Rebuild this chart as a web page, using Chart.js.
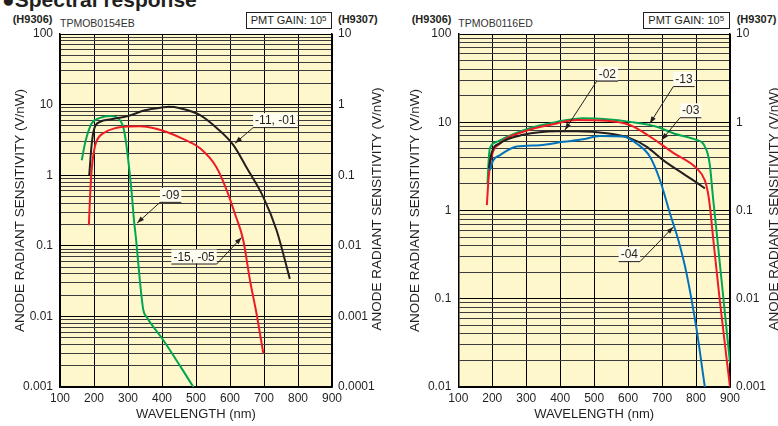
<!DOCTYPE html>
<html>
<head>
<meta charset="utf-8">
<script src="https://cdn.jsdelivr.net/npm/chart.js@4.4.1/dist/chart.umd.min.js"></script>
<style>
  body { margin:0; width:778px; height:426px; overflow:hidden; background:#fff; position:relative;
         font-family:"Liberation Sans", Arial, sans-serif; color:#231f20; }
  canvas { position:absolute; top:0; }
  #c1 { left:0; }
  #c2 { left:389px; }
  .t { position:absolute; white-space:nowrap; line-height:1; }
  .model { font-weight:bold; font-size:11px; top:14px; }
  .code { font-size:10.5px; color:#333; top:17.5px; }
  .gain { font-size:11px; top:11.5px; height:17px; box-sizing:border-box; border:1px solid #231f20;
          padding:2px 0 0 4px; }
  .gain span { font-size:8px; position:relative; top:-3px; }
  #title { position:absolute; left:2px; top:-12px; font-size:21px; font-weight:bold; white-space:nowrap; }
</style>
</head>
<body>
<div id="title">●Spectral response</div>

<div class="t model" style="left:12.7px">(H9306)</div>
<div class="t code" style="left:60px">TPMOB0154EB</div>
<div class="t gain" style="left:245.7px; width:86px">PMT GAIN: 10<span>5</span></div>
<div class="t model" style="left:338px">(H9307)</div>

<div class="t model" style="left:411.7px">(H9306)</div>
<div class="t code" style="left:458.3px">TPMOB0116ED</div>
<div class="t gain" style="left:643.3px; width:87px">PMT GAIN: 10<span>5</span></div>
<div class="t model" style="left:736.7px">(H9307)</div>

<canvas id="c1" width="389" height="426"></canvas>
<canvas id="c2" width="389" height="426"></canvas>

<script>
// ---- left graph: H9306/H9307 -11/-01, -09, -15/-05
const nmA_1101 = [186, 193, 201, 218, 250, 300, 350, 400, 420, 453, 512, 560, 610, 650, 698, 737, 776];
const svA_1101 = [1.0, 2.7, 4.6, 5.7, 6.2, 6.9, 8.3, 9.1, 9.3, 8.9, 7.1, 4.7, 2.67, 1.25, 0.49, 0.166, 0.034];
const nmA_09 = [164, 172, 180, 193, 218, 247, 267, 286, 293, 301, 311, 318, 324, 335, 345, 355, 404, 450, 492, 505];
const svA_09 = [1.63, 2.6, 3.7, 5.4, 6.5, 6.9, 6.6, 4.8, 3.2, 1.6, 0.55, 0.22, 0.12, 0.032, 0.0123, 0.0098, 0.0046, 0.0021, 0.001, 0.00078];
const nmA_1505 = [185, 188, 193, 200, 208, 230, 260, 300, 335, 380, 414, 460, 512, 560, 590, 615, 639, 659, 678, 698];
const svA_1505 = [0.195, 0.45, 1.18, 2.2, 3.1, 4.0, 4.6, 4.9, 4.95, 4.6, 4.1, 3.3, 2.4, 1.3, 0.62, 0.28, 0.12, 0.032, 0.011, 0.003];

// ---- right graph: -02, -03, -04, -13
const nmB_13 = [186, 190, 193, 213, 250, 291, 340, 390, 468, 537, 605, 684, 733, 802, 818, 826, 835, 841, 850, 860, 880, 900];
const svB_13 = [2.03, 4.0, 5.06, 6.0, 7.0, 8.1, 9.2, 10.1, 11.1, 10.8, 10.1, 8.9, 7.5, 6.3, 5.9, 5.3, 4.3, 3.2, 1.4, 0.6, 0.106, 0.0186];
const nmB_03 = [184, 190, 198, 223, 291, 390, 449, 537, 605, 664, 733, 802, 826, 835, 841, 851, 870, 900];
const svB_03 = [1.15, 2.5, 4.07, 5.75, 7.8, 9.7, 10.6, 10.4, 9.3, 6.9, 4.5, 3.0, 2.2, 1.6, 1.1, 0.46, 0.095, 0.01];
const nmB_02 = [190, 198, 223, 291, 390, 449, 537, 605, 654, 704, 763, 800, 826];
const svB_02 = [3.0, 4.5, 5.8, 7.2, 7.9, 7.9, 7.5, 6.6, 5.3, 3.7, 2.6, 2.1, 1.78];
const nmB_04 = [193, 203, 223, 272, 340, 409, 468, 517, 586, 625, 664, 694, 723, 748, 772, 802, 826, 835];
const svB_04 = [2.87, 3.7, 4.25, 5.3, 5.5, 6.0, 6.4, 7.0, 6.9, 5.75, 4.1, 2.2, 0.93, 0.46, 0.194, 0.044, 0.01, 0.006];

// tick labels
const xLabels = ['100', '200', '300', '400', '500', '600', '700', '800', '900'];
const yLabelsA = ['0.001', '0.01', '0.1', '1', '10', '100'];
const y2LabelsA = ['0.0001', '0.001', '0.01', '0.1', '1', '10'];
const yLabelsB = ['0.01', '0.1', '1', '10', '100'];
const y2LabelsB = ['0.001', '0.01', '0.1', '1', '10'];

// callouts: underline end (nm, value) -> arrow tip (nm, value)
const notesA = [
  { text: '-11, -01', nm: 668, val: 4.8, tipNm: 615, tipVal: 2.84, side: 'left' },
  { text: '-09', nm: 394, val: 0.419, tipNm: 327, tipVal: 0.21, side: 'left' },
  { text: '-15, -05', nm: 561, val: 0.0561, tipNm: 634, tipVal: 0.131, side: 'right' }
];
const notesB = [
  { text: '-02', nm: 507.5, val: 29.6, tipNm: 414, tipVal: 8.17, side: 'left' },
  { text: '-13', nm: 733, val: 25.7, tipNm: 664, tipVal: 9.7, side: 'left' },
  { text: '-03', nm: 752.7, val: 11.4, tipNm: 699, tipVal: 6.28, side: 'left' },
  { text: '-04', nm: 635, val: 0.267, tipNm: 733, tipVal: 0.65, side: 'right' }
];

const INK = '#231f20';
const PAPER = '#fff7cc';
const BLACK = '#231f20', RED = '#ed1c24', GREEN = '#00a651', BLUE = '#0072bc';
const FONT = '"Liberation Sans", Arial, sans-serif';
const YTITLE = 'ANODE RADIANT SENSITIVITY (V/nW)';
const TITLE_SIZE = 13.5;

Chart.defaults.font.family = FONT;
Chart.defaults.font.size = 12;
Chart.defaults.color = INK;

function isDecade(v) {
  const l = Math.log10(v);
  return Math.abs(l - Math.round(l)) < 1e-6;
}

function logGrid(min, max, minors) {
  const t = [];
  for (let e = Math.round(Math.log10(min)); e < Math.round(Math.log10(max)); e++) {
    for (let m = 1; m < 10; m++) {
      if (m === 1 || minors) t.push(+(m * Math.pow(10, e)).toPrecision(6));
    }
  }
  t.push(max);
  return t;
}

function series(nm, sv, color) {
  return {
    data: nm.map((n, i) => ({ x: n, y: sv[i] })),
    borderColor: color,
    borderWidth: 2,
    pointRadius: 0,
    cubicInterpolationMode: 'monotone',
    fill: false
  };
}

const paper = {
  id: 'paper',
  beforeDraw(chart) {
    const { ctx, chartArea: a } = chart;
    ctx.save();
    ctx.fillStyle = PAPER;
    ctx.fillRect(a.left, a.top, a.right - a.left, a.bottom - a.top);
    ctx.restore();
  }
};

function callouts(notes, rightTitleX) {
  return {
    id: 'callouts',
    afterDraw(chart) {
      const { ctx, chartArea: a } = chart;
      const x = chart.scales.x, y = chart.scales.y;
      ctx.save();
      ctx.font = '12px ' + FONT;
      notes.forEach(n => {
        const ux = x.getPixelForValue(n.nm), uy = y.getPixelForValue(n.val);
        const tx = x.getPixelForValue(n.tipNm), ty = y.getPixelForValue(n.tipVal);
        const w = ctx.measureText(n.text).width + 4;
        const left = n.side === 'left' ? ux : ux - w;
        ctx.fillStyle = '#fffdf0';
        ctx.fillRect(left, uy - 14, w, 14);
        ctx.fillStyle = INK;
        ctx.textBaseline = 'alphabetic';
        ctx.fillText(n.text, left + 2, uy - 3);
        ctx.strokeStyle = INK;
        ctx.lineWidth = 1;
        ctx.beginPath();
        ctx.moveTo(left, uy + 0.5);
        ctx.lineTo(left + w, uy + 0.5);
        ctx.moveTo(ux, uy + 0.5);
        ctx.lineTo(tx, ty);
        ctx.stroke();
        const ang = Math.atan2(ty - uy, tx - ux);
        ctx.beginPath();
        ctx.moveTo(tx, ty);
        ctx.lineTo(tx - 7 * Math.cos(ang) + 2.5 * Math.sin(ang), ty - 7 * Math.sin(ang) - 2.5 * Math.cos(ang));
        ctx.lineTo(tx - 7 * Math.cos(ang) - 2.5 * Math.sin(ang), ty - 7 * Math.sin(ang) + 2.5 * Math.cos(ang));
        ctx.closePath();
        ctx.fill();
      });
      // right-hand axis title, reading bottom to top like the left one
      ctx.font = TITLE_SIZE + 'px ' + FONT;
      ctx.textAlign = 'center';
      ctx.textBaseline = 'middle';
      ctx.translate(rightTitleX, (a.top + a.bottom) / 2 - 1.5);
      ctx.rotate(-Math.PI / 2);
      ctx.fillText(YTITLE, 0, 0);
      ctx.restore();
    }
  };
}

function makeChart(id, o) {
  const ymin = o.yMin, ymax = o.yMax;
  return new Chart(document.getElementById(id), {
    type: 'line',
    data: { datasets: o.datasets },
    options: {
      animation: false,
      responsive: false,
      devicePixelRatio: 1,
      layout: { padding: { top: 34, left: 0, right: 0, bottom: 0 } },
      plugins: { legend: { display: false }, tooltip: { enabled: false } },
      scales: {
        x: {
          type: 'linear', min: 100, max: 900,
          afterFit: s => { s.height = 39; },
          ticks: { stepSize: 100, padding: 4, callback: (v, i) => xLabels[Math.round((v - 100) / 100)] },
          grid: { color: '#000', lineWidth: 1, drawTicks: false },
          border: { color: '#000', width: 1.5 },
          title: { display: true, text: 'WAVELENGTH (nm)', font: { size: 13 }, padding: { top: 0, bottom: 4 } }
        },
        y: {
          type: 'logarithmic', position: 'left', min: ymin, max: ymax,
          afterFit: s => { s.width = o.leftW; },
          afterBuildTicks: s => { s.ticks = logGrid(ymin, ymax, true).map(v => ({ value: v })); },
          ticks: {
            autoSkip: false, padding: 7,
            callback: v => isDecade(v) ? o.yLabels[Math.round(Math.log10(v / ymin))] : ''
          },
          grid: {
            drawTicks: false,
            color: c => (c.tick && isDecade(c.tick.value)) ? '#000' : '#3c3c3c',
            lineWidth: 1
          },
          border: { color: '#000', width: 1.5 },
          title: { display: true, text: YTITLE, font: { size: TITLE_SIZE }, padding: { top: o.titlePad, bottom: 0 } }
        },
        y2: {
          type: 'logarithmic', position: 'right', min: ymin / 10, max: ymax / 10,
          afterFit: s => { s.width = o.rightW; },
          afterBuildTicks: s => { s.ticks = logGrid(ymin / 10, ymax / 10, false).map(v => ({ value: v })); },
          ticks: {
            autoSkip: false, padding: 6,
            callback: v => o.y2Labels[Math.round(Math.log10(v / (ymin / 10)))]
          },
          grid: { display: false, drawTicks: false },
          border: { color: '#000', width: 1.5 }
        }
      }
    },
    plugins: [paper, callouts(o.notes, o.rightTitleX)]
  });
}

makeChart('c1', {
  datasets: [
    series(nmA_1101, svA_1101, BLACK),
    series(nmA_1505, svA_1505, RED),
    series(nmA_09, svA_09, GREEN)
  ],
  yMin: 0.001, yMax: 100, yLabels: yLabelsA, y2Labels: y2LabelsA,
  leftW: 60, rightW: 57, titlePad: 12.4, rightTitleX: 377.5, notes: notesA
});

makeChart('c2', {
  datasets: [
    series(nmB_04, svB_04, BLUE),
    series(nmB_02, svB_02, BLACK),
    series(nmB_03, svB_03, RED),
    series(nmB_13, svB_13, GREEN)
  ],
  yMin: 0.01, yMax: 100, yLabels: yLabelsB, y2Labels: y2LabelsB,
  leftW: 69.3, rightW: 48, titlePad: 18.6, rightTitleX: 385, notes: notesB
});
</script>
</body>
</html>
